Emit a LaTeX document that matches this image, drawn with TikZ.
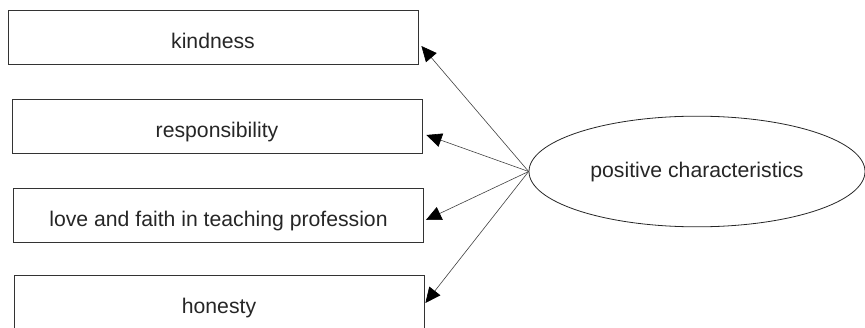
\documentclass[tikz,border=0pt]{standalone}
\usepackage{fontspec}
\setmainfont{Liberation Sans}
\usetikzlibrary{arrows.meta,shapes.geometric}
\begin{document}
\begin{tikzpicture}[x=0.75pt,y=-0.75pt,
  box/.style={draw=black!80,line width=0.6pt,rectangle,minimum width=307.5pt,minimum height=40.5pt,
    text height=16.5pt,text depth=0pt,inner sep=0pt,font=\fontsize{15.9pt}{18pt}\selectfont,text=black!85},
  oval/.style={draw=black!85,line width=0.6pt,ellipse,minimum width=252pt,minimum height=83pt,
    text height=9.75pt,text depth=0pt,inner sep=0pt,font=\fontsize{15.9pt}{18pt}\selectfont,text=black!85},
  link/.style={draw=black!75,line width=0.45pt,-{Triangle[length=11.5pt,width=10.5pt,color=black]}}]
\useasboundingbox (0,0) rectangle (865,328);
\node[box] (k) at (213,37.5) {kindness};
\node[box] (r) at (217,126.5) {responsibility};
\node[box] (l) at (218.5,215) {love and faith in teaching profession};
\node[box] (h) at (219,302.5) {honesty};
\node[oval] (p) at (697,171.5) {positive characteristics};
\draw[link] (p.west) -- ([shift={(3,8.5)}]k.east);
\draw[link] (p.west) -- ([shift={(4,8.5)}]r.east);
\draw[link] (p.west) -- ([shift={(2,5)}]l.east);
\draw[link] (p.west) -- ([shift={(1,0.5)}]h.east);
\end{tikzpicture}
\end{document}
